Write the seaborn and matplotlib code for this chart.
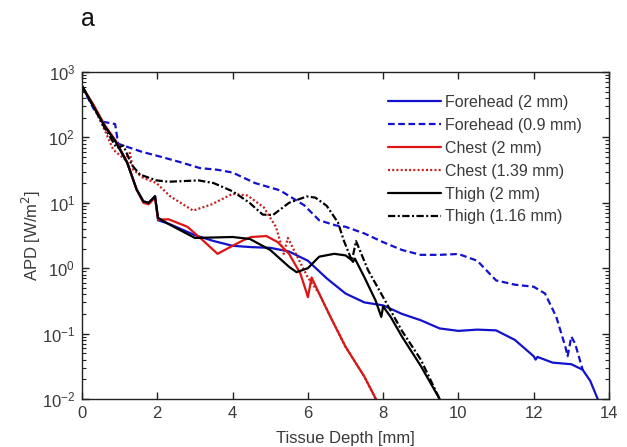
import numpy as np
import pandas as pd
import seaborn as sns
import matplotlib
matplotlib.use("Agg")
import matplotlib.pyplot as plt
from matplotlib.ticker import LogLocator, NullFormatter, FixedLocator

# Absorbed power density vs. tissue depth for three body sites
forehead_2_x = [0, 0.3, 0.6, 0.9, 1.2, 1.45, 1.63, 1.77, 1.94, 2.02, 2.3, 3.0, 3.5, 4.0, 4.5, 5.0, 5.5,
                6.0, 6.5, 7.0, 7.5, 8.0, 8.5, 9.0, 9.5, 10.0, 10.5, 11.0, 11.5, 12.0, 12.05, 12.1, 12.5,
                13.0, 13.3, 13.5, 13.7, 13.8]
forehead_2_y = [600, 300, 150, 85, 41, 16, 10.5, 10, 12.6, 5.4, 4.8, 3.2, 2.6, 2.2, 2.1, 2.05, 1.8,
                1.3, 0.7, 0.41, 0.3, 0.27, 0.2, 0.16, 0.12, 0.11, 0.115, 0.112, 0.08, 0.045, 0.04, 0.044, 0.036,
                0.034, 0.028, 0.019, 0.01, 0.008]

forehead_09_x = [0, 0.3, 0.56, 0.74, 0.88, 0.96, 1.19, 1.6, 2.07, 2.6, 3.13, 3.6, 4.0, 4.6, 5.26, 5.9,
                 6.3, 6.75, 7.0, 7.5, 8.0, 8.5, 9.0, 9.5, 10.0, 10.5, 11.0, 11.5, 12.0, 12.3, 12.6,
                 12.85, 12.9, 13.0, 13.1, 13.3]
forehead_09_y = [600, 280, 173, 166, 160, 80, 72, 60, 51, 42, 34, 32, 29, 20, 15.5, 9.2,
                 5.4, 4.5, 4.3, 3.4, 2.5, 1.9, 1.6, 1.6, 1.65, 1.3, 0.65, 0.56, 0.52, 0.41, 0.18,
                 0.06, 0.045, 0.09, 0.07, 0.028]

chest_2_x = [0, 0.3, 0.6, 0.9, 1.2, 1.45, 1.63, 1.77, 1.94, 2.02, 2.3, 2.8, 3.2, 3.6, 4.0, 4.3, 4.5,
             4.9, 5.2, 5.5, 5.8, 5.95, 6.0, 6.1, 6.3, 6.6, 7.0, 7.5, 7.85]
chest_2_y = [600, 320, 155, 88, 42, 16, 10, 9.5, 12, 5.5, 5.6, 4.3, 2.7, 1.66, 2.2, 2.7, 3.0,
             3.1, 2.5, 1.66, 0.83, 0.45, 0.36, 0.72, 0.41, 0.18, 0.063, 0.022, 0.009]

chest_139_x = [0, 0.3, 0.6, 0.83, 1.14, 1.27, 1.36, 1.63, 1.98, 2.34, 2.95, 3.45, 4.0, 4.4, 4.83,
               5.15, 5.36, 5.47, 5.68, 6.0, 6.3, 6.6, 7.0, 7.5, 7.8]
chest_139_y = [600, 300, 130, 65, 46, 58, 32, 24, 20, 12.6, 7.6, 9.5, 13.7, 12.9, 8.5,
               4.3, 1.66, 2.9, 1.66, 0.72, 0.41, 0.18, 0.063, 0.022, 0.01]

thigh_2_x = [0, 0.3, 0.6, 0.9, 1.2, 1.45, 1.63, 1.77, 1.94, 2.02, 2.28, 3.0, 4.0, 4.46, 5.0, 5.5,
             5.7, 6.0, 6.3, 6.7, 7.0, 7.15, 7.2, 7.25, 7.5, 7.8, 7.95, 8.0, 8.2, 8.5, 9.0, 9.5, 9.55]
thigh_2_y = [620, 300, 150, 85, 41, 16, 10.5, 10, 12.6, 5.9, 4.8, 2.9, 3.0, 2.8, 1.9, 1.05,
             0.87, 1.0, 1.5, 1.66, 1.57, 1.35, 1.25, 1.4, 0.73, 0.32, 0.18, 0.26, 0.18, 0.09, 0.032, 0.01, 0.009]

thigh_116_x = [0, 0.3, 0.6, 0.92, 1.1, 1.32, 1.54, 1.98, 2.3, 3.1, 3.5, 4.0, 4.45, 4.8, 5.07, 5.5,
               5.97, 6.2, 6.5, 6.8, 6.96, 7.17, 7.28, 7.6, 8.0, 8.5, 9.0, 9.5, 9.55]
thigh_116_y = [600, 300, 140, 69, 75, 38, 27, 22, 21, 22, 20, 15, 10, 6.6, 6.5, 10,
               12.5, 12, 9, 5, 2.6, 1.3, 2.6, 0.93, 0.36, 0.11, 0.04, 0.01, 0.009]

labels = ["Forehead (2 mm)", "Forehead (0.9 mm)", "Chest (2 mm)", "Chest (1.39 mm)",
          "Thigh (2 mm)", "Thigh (1.16 mm)"]
series_x = [forehead_2_x, forehead_09_x, chest_2_x, chest_139_x, thigh_2_x, thigh_116_x]
series_y = [forehead_2_y, forehead_09_y, chest_2_y, chest_139_y, thigh_2_y, thigh_116_y]

colors = ["#1212cc", "#1212cc", "#e01414", "#c81e1e", "#000000", "#000000"]
dashes = [None, (3.0, 1.6), None, (0.9, 1.0), None, (3.3, 1.1, 0.9, 1.1)]

sns.set_style("white")
plt.rcParams["font.family"] = ["Liberation Sans", "DejaVu Sans"]
plt.rcParams["axes.unicode_minus"] = False

fig = plt.figure(figsize=(6.27, 4.47), dpi=100)
ax = fig.add_axes([0.1308, 0.1074, 0.8405, 0.7315])

for lab, xs, ys, c, d in zip(labels, series_x, series_y, colors, dashes):
    df = pd.DataFrame({"depth": xs, "apd": ys})
    sns.lineplot(data=df, x="depth", y="apd", ax=ax, color=c, lw=1.6,
                 sort=False, estimator=None, label=lab)
    ln = ax.get_lines()[-1]
    if d is not None:
        ln.set_dashes(d)

ax.set_yscale("log")
ax.set_xlim(0, 14)
ax.set_ylim(1e-2, 1e3)

# decade ticks with 2..9 minor ticks in between
decades = np.arange(-2, 4)
minor_pos = [k * 10.0 ** e for e in decades[:-1] for k in range(2, 10)]
ax.xaxis.set_major_locator(FixedLocator(np.arange(0, 15, 2)))
ax.yaxis.set_major_locator(FixedLocator(10.0 ** decades))
ax.yaxis.set_minor_locator(FixedLocator(minor_pos))
ax.yaxis.set_minor_formatter(NullFormatter())

ax.tick_params(axis="both", which="both", direction="in", top=True, right=True,
               bottom=True, left=True, labelsize=12, labelcolor="#3a3a3a", colors="#222222")
ax.tick_params(axis="both", which="major", length=5, width=1, pad=5)
ax.tick_params(axis="x", which="minor", length=0)
ax.tick_params(axis="y", which="minor", length=3, width=0.8)
for sp in ax.spines.values():
    sp.set_color("#222222")
    sp.set_linewidth(1.0)

ax.set_xlabel("Tissue Depth [mm]", fontsize=12, color="#3a3a3a", labelpad=7)
ax.set_ylabel("APD [W/m$^2$]", fontsize=12, color="#3a3a3a", labelpad=-1)

leg = ax.legend(loc="upper right", frameon=False, fontsize=11.5, handlelength=3.3,
                handletextpad=0.25, labelspacing=0.5, borderaxespad=0.5,
                bbox_to_anchor=(0.975, 0.975))
for t in leg.get_texts():
    t.set_color("#3a3a3a")

fig.text(0.14, 0.958, "a", fontsize=18, ha="center", va="center", color="#111111")

fig.savefig("out.png", dpi=100)
